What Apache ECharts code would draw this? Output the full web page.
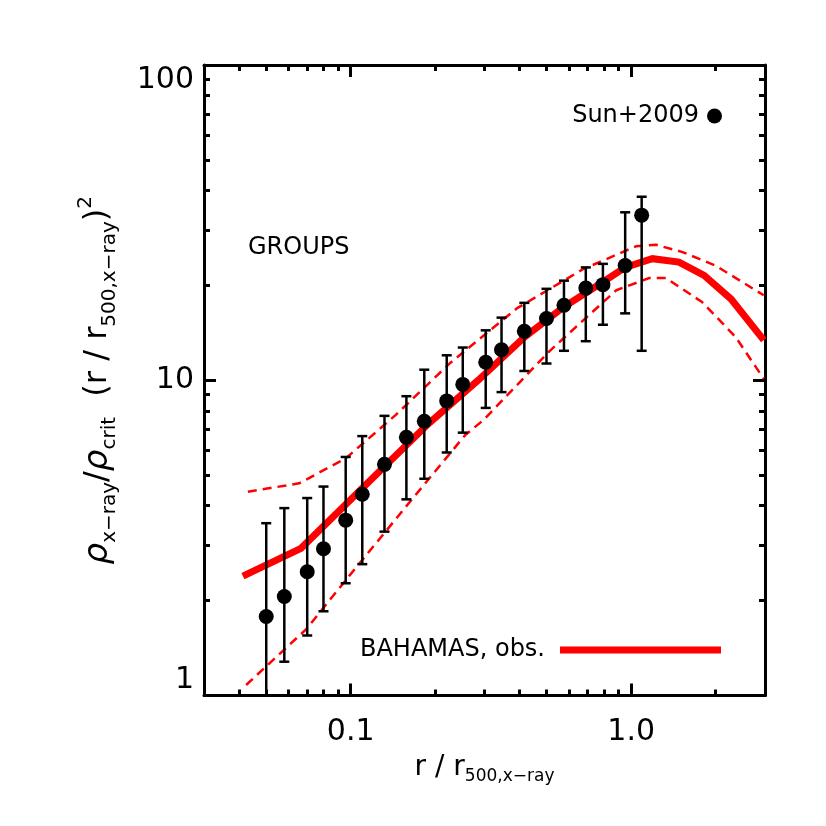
<!DOCTYPE html>
<html>
<head>
<meta charset="utf-8">
<script src="https://cdn.jsdelivr.net/npm/echarts@6/dist/echarts.min.js"></script>
<style>
html,body{margin:0;padding:0;background:#fff}
#chart{width:826px;height:826px}
</style>
</head>
<body>
<div id="chart"></div>
<script>
// Sun+2009 groups (points with error bars)
var sunR   = [0.050, 0.058, 0.070, 0.080, 0.096, 0.110, 0.132, 0.158, 0.183, 0.220, 0.251, 0.303, 0.345, 0.416, 0.499, 0.576, 0.689, 0.793, 0.952, 1.09]
var sunVal = [1.78, 2.06, 2.47, 2.92, 3.60, 4.35, 5.41, 6.59, 7.41, 8.60, 9.70, 11.4, 12.5, 14.3, 15.7, 17.3, 19.6, 20.1, 23.1, 33.4]
var sunLo  = [0.80, 1.28, 1.55, 1.85, 2.27, 2.61, 3.31, 4.19, 4.87, 5.90, 6.82, 8.17, 9.17, 10.7, 11.3, 12.4, 13.3, 15.0, 16.3, 12.4]
var sunHi  = [3.52, 3.93, 4.23, 4.60, 5.71, 6.65, 7.71, 8.90, 10.8, 12.0, 12.7, 14.4, 15.8, 17.6, 19.5, 20.7, 22.8, 23.4, 34.1, 38.2]

// BAHAMAS median
var bahR   = [0.0413, 0.0665, 0.132, 0.19, 0.285, 0.416, 0.576, 0.793, 0.952, 1.19, 1.48, 1.82, 2.27, 2.97]
var bahVal = [2.39, 2.93, 5.33, 7.3, 10.0, 13.7, 17.1, 20.5, 22.8, 24.3, 23.7, 21.5, 18.1, 13.4]
// BAHAMAS scatter (dashed)
var upR    = [0.043, 0.0655, 0.096, 0.1445, 0.2265, 0.391, 0.673, 1.04, 1.227, 1.525, 2.0, 2.97]
var upVal  = [4.43, 4.71, 5.65, 7.75, 11.35, 16.9, 22.5, 26.6, 26.9, 25.5, 23.1, 18.6]
var loR    = [0.0424, 0.0693, 0.0986, 0.161, 0.256, 0.297, 0.513, 0.885, 1.16, 1.33, 1.79, 2.36, 2.97]
var loVal  = [1.08, 1.62, 2.39, 4.07, 6.7, 7.47, 12.4, 19.3, 21.1, 21.1, 17.7, 13.7, 10.1]

// axes
var xMin = 0.03, xMax = 3
var yMin = 1, yMax = 100
var xMajor = [0.1, 1.0]
var xMajorLabels = ['0.1', '1.0']
var xMinor = [0.04, 0.05, 0.06, 0.07, 0.08, 0.09, 0.2, 0.3, 0.4, 0.5, 0.6, 0.7, 0.8, 0.9, 2]
var yMajor = [1, 10, 100]
var yMajorLabels = ['1', '10', '100']
var yMinor = [2, 3, 4, 5, 6, 7, 8, 9, 20, 30, 40, 50, 60, 70, 80, 90]

var FONT = 'DejaVu Sans'

function lg(v){ return Math.log(v) / Math.LN10 }
function pairs(xs, ys){ return xs.map(function(x, i){ return [lg(x), lg(ys[i])] }) }
function labelOf(vals, labels){
	return function(v){
		for (var i = 0; i < vals.length; i++) {
			if (Math.abs(lg(vals[i]) - v) < 1e-6) return labels[i]
		}
		return ''
	}
}

function makeAxis(pos, min, max, ticks, len, main){
	return {
		type: 'value',
		position: pos,
		min: lg(min),
		max: lg(max),
		axisLine: {show: main, onZero: false, lineStyle: {color: '#000', width: 3}},
		axisTick: {show: true, inside: true, length: len, customValues: ticks.map(lg),
			lineStyle: {color: '#000', width: 3}},
		axisLabel: {show: false},
		splitLine: {show: false}
	}
}

var xBottom = makeAxis('bottom', xMin, xMax, xMajor, 12, true)
xBottom.axisLabel = {
	show: true, customValues: xMajor.map(lg), formatter: labelOf(xMajor, xMajorLabels),
	color: '#000', fontFamily: FONT, fontSize: 30, margin: 22
}
xBottom.name = '{m|r / r}{s|500,x\u2212ray}'
xBottom.nameLocation = 'middle'
xBottom.nameGap = 54
xBottom.nameTextStyle = {
	color: '#000', fontFamily: FONT,
	rich: {
		m: {fontFamily: FONT, fontSize: 28, lineHeight: 36, color: '#000'},
		s: {fontFamily: FONT, fontSize: 17, lineHeight: 17, color: '#000', verticalAlign: 'bottom'}
	}
}

var yLeft = makeAxis('left', yMin, yMax, yMajor, 12, true)
yLeft.axisLabel = {
	show: true, customValues: yMajor.map(lg), formatter: labelOf(yMajor, yMajorLabels),
	color: '#000', fontFamily: FONT, fontSize: 30, margin: 10,
	verticalAlignMinLabel: 'bottom', verticalAlignMaxLabel: 'top'
}
yLeft.name = '{r|\u03c1}{s|x\u2212ray}{m|/}{r|\u03c1}{s|crit}{m|  (r / r}{s|500,x\u2212ray}{m|)}{p|2}'
yLeft.nameLocation = 'middle'
yLeft.nameRotate = 90
yLeft.nameGap = 84
yLeft.nameTextStyle = {
	color: '#000', fontFamily: FONT,
	rich: {
		r: {fontFamily: FONT, fontSize: 34, fontStyle: 'italic', lineHeight: 44, color: '#000'},
		m: {fontFamily: FONT, fontSize: 32, lineHeight: 44, color: '#000'},
		s: {fontFamily: FONT, fontSize: 20, lineHeight: 20, color: '#000', verticalAlign: 'bottom'},
		p: {fontFamily: FONT, fontSize: 20, lineHeight: 20, color: '#000', verticalAlign: 'top'}
	}
}

var option = {
	backgroundColor: '#fff',
	animation: false,
	grid: {left: 204, right: 61, top: 65, bottom: 130.5, containLabel: false},
	xAxis: [
		xBottom,
		makeAxis('bottom', xMin, xMax, xMinor, 6, false),
		makeAxis('top', xMin, xMax, xMajor, 12, true),
		makeAxis('top', xMin, xMax, xMinor, 6, false)
	],
	yAxis: [
		yLeft,
		makeAxis('left', yMin, yMax, yMinor, 6, false),
		makeAxis('right', yMin, yMax, yMajor, 12, true),
		makeAxis('right', yMin, yMax, yMinor, 6, false)
	],
	legend: [{
		data: [{name: 'Sun+2009', icon: 'circle'}],
		right: 99, top: 99, orient: 'horizontal', align: 'right',
		itemWidth: 15, itemHeight: 15, selectedMode: false,
		itemStyle: {color: '#000', opacity: 1},
		textStyle: {color: '#000', fontFamily: FONT, fontSize: 24, padding: [0, 3, 0, 0]}
	}, {
		data: [{name: 'BAHAMAS, obs.', icon: 'rect'}],
		right: 100, top: 633, orient: 'horizontal', align: 'right',
		itemWidth: 161, itemHeight: 7, selectedMode: false,
		textStyle: {color: '#000', fontFamily: FONT, fontSize: 24, padding: [0, 10, 0, 0]}
	}],
	graphic: [{
		type: 'text', left: 248, top: 236,
		style: {text: 'GROUPS', font: '24px "DejaVu Sans"', fill: '#000'}
	}],
	series: [{
		name: 'BAHAMAS upper',
		type: 'line',
		data: pairs(upR, upVal),
		showSymbol: false, symbol: 'none',
		lineStyle: {color: '#ff0000', width: 2.5, type: [9, 6]},
		z: 2
	}, {
		name: 'BAHAMAS lower',
		type: 'line',
		data: pairs(loR, loVal),
		showSymbol: false, symbol: 'none',
		lineStyle: {color: '#ff0000', width: 2.5, type: [9, 6]},
		z: 2
	}, {
		name: 'BAHAMAS, obs.',
		type: 'line',
		data: pairs(bahR, bahVal),
		showSymbol: false, symbol: 'none',
		itemStyle: {color: '#ff0000'},
		lineStyle: {color: '#ff0000', width: 7, join: 'miter'},
		z: 3
	}, {
		name: 'Sun+2009 errors',
		type: 'custom',
		data: sunR.map(function(x, i){ return [lg(x), lg(sunLo[i]), lg(sunHi[i])] }),
		encode: {x: 0, y: [1, 2]},
		renderItem: function(params, api){
			var cs = params.coordSys
			var p1 = api.coord([api.value(0), api.value(1)])
			var p2 = api.coord([api.value(0), api.value(2)])
			var x = p1[0]
			var yb = Math.min(p1[1], cs.y + cs.height)
			var yt = Math.max(p2[1], cs.y)
			var st = {stroke: '#000', lineWidth: 2.5}
			var kids = [{type: 'line', shape: {x1: x, y1: yb, x2: x, y2: yt}, style: st}]
			if (p2[1] >= cs.y) kids.push({type: 'line', shape: {x1: x - 5, y1: yt, x2: x + 5, y2: yt}, style: st})
			if (p1[1] <= cs.y + cs.height) kids.push({type: 'line', shape: {x1: x - 5, y1: yb, x2: x + 5, y2: yb}, style: st})
			return {type: 'group', children: kids}
		},
		z: 4
	}, {
		name: 'Sun+2009',
		type: 'scatter',
		data: pairs(sunR, sunVal),
		symbol: 'circle',
		symbolSize: 15,
		itemStyle: {color: '#000', opacity: 1},
		z: 5
	}]
}

var chart = echarts.init(document.getElementById('chart'))
chart.setOption(option)
</script>
</body>
</html>
